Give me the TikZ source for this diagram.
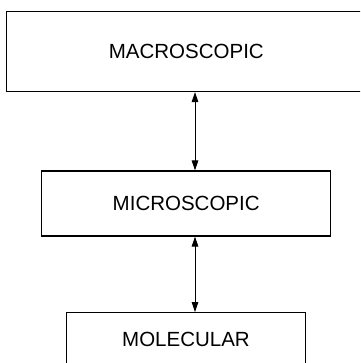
\documentclass[tikz,border=0pt]{standalone}
\usepackage{fontspec}
\setmainfont{Liberation Sans}
\usetikzlibrary{arrows.meta}
\begin{document}
\begin{tikzpicture}[x=1pt,y=-1pt,
  levelbox/.style={draw, line width=1.1pt, inner sep=0pt, font=\fontsize{20.5}{24}\selectfont},
  link/.style={line width=0.9pt, {Triangle[length=10pt,width=6.5pt]}-{Triangle[length=10pt,width=6.5pt]}}]
\useasboundingbox (0,0) rectangle (360,363);
\clip (0,0) rectangle (360,363);
\node[levelbox, minimum width=360pt, minimum height=80pt] (macro) at (186.3,51.5) {MACROSCOPIC};
\node[levelbox, minimum width=289pt, minimum height=65pt] (micro) at (186.2,203.5) {MICROSCOPIC};
\node[levelbox, minimum width=238.6pt, minimum height=54pt] (mol) at (186,339.7) {MOLECULAR};
\coordinate (ax) at (195,0);
\draw[link] (macro.south -| ax) -- (micro.north -| ax);
\draw[link] (micro.south -| ax) -- (mol.north -| ax);
\end{tikzpicture}
\end{document}
